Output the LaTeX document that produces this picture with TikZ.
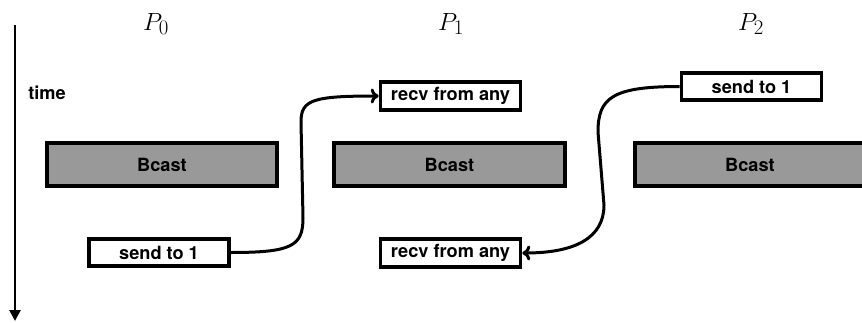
\documentclass[tikz,border=0pt]{standalone}
\usepackage{fontspec}
\setsansfont{TeX Gyre Heros}
\usetikzlibrary{arrows.meta}
\begin{document}
\begin{tikzpicture}[x=1pt,y=-1pt,
  lbl/.style={font=\fontsize{18.2}{20}\selectfont\sffamily\bfseries},
  bcastbox/.style={lbl,draw=black,line width=3.6pt,fill=black!40,minimum width=230.5pt,minimum height=43.5pt,inner sep=0pt},
  msgbox/.style={lbl,draw=black,line width=3.6pt,fill=white,minimum width=140pt,minimum height=27.5pt,inner sep=0pt},
  proc/.style={font=\fontsize{28}{32}\selectfont},
  msg/.style={line width=3pt,-{To[length=8pt,width=15pt,line width=3pt]}}]
\useasboundingbox (0,0) rectangle (862,322);
% time axis
\coordinate (t0) at (15,25);
\coordinate (t1) at (15,321);
\draw[line width=2.6pt,-{Triangle[length=11pt,width=11pt]}] (t0) -- (t1);
\node[lbl] (time) at (47,93) {time};
% process labels
\node[proc] (p0) at (156,24) {$P_0$};
\node[proc] (p1) at (451,24) {$P_1$};
\node[proc] (p2) at (751,24) {$P_2$};
% bcast boxes
\node[bcastbox] (b0) at (162,164.5) {Bcast};
\node[bcastbox] (b1) at (449.5,164.5) {Bcast};
\node[bcastbox] (b2) at (750,164.5) {Bcast};
% message boxes
\node[msgbox] (s0) at (159,252.5) {send to 1};
\node[msgbox] (r1a) at (450.5,96) {recv from any};
\node[msgbox] (r1b) at (450.5,253) {recv from any};
\node[msgbox] (s2) at (751.5,86.5) {send to 1};
% connectors
\coordinate (c1a) at (303,218);
\coordinate (c1b) at (301,122);
\coordinate (c2a) at (598,132);
\coordinate (c2b) at (604,205);
\draw[msg] (s0.east) .. controls (292,252.5) and (303,246) .. (c1a) -- (c1b) .. controls (301,100) and (312,96) .. (r1a.west);
\draw[msg] (s2.west) .. controls (612,86.5) and (598,98) .. (c2a) -- (c2b) .. controls (604,238) and (575,253) .. (r1b.east);
\end{tikzpicture}
\end{document}
